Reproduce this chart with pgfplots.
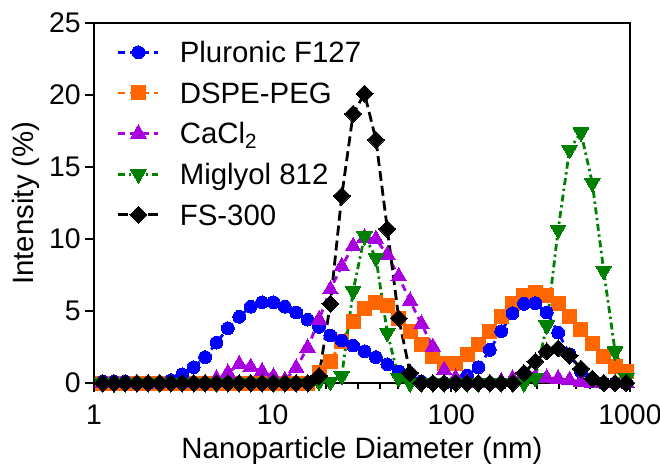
\documentclass[border=0pt]{standalone}
\usepackage{pgfplots}
\usepackage{pgfplotstable}
\pgfplotsset{compat=1.18}
\usepackage{fontspec}
\setmainfont{Liberation Sans}
\definecolor{cblue}{RGB}{0,0,255}
\definecolor{corange}{RGB}{255,102,0}
\definecolor{cpurple}{RGB}{168,0,222}
\definecolor{cgreen}{RGB}{0,128,0}

\pgfplotstableread{
x b o p g k
1.117 0.1 0 0 0 0
1.294 0.1 0 0 0 0
1.499 0.1 0 0 0 0
1.736 0 0 0 0 0
2.01 0 0 0 0 0
2.328 0 0 0 0 0
2.696 0.2 0 0 0 0
3.122 0.6 0 0 0 0
3.615 1.1 0 0 0 0
4.187 1.8 0 0 0 0
4.849 2.8 0 0.3 0 0
5.615 3.8 0 0.7 0 0
6.503 4.6 0 1.3 0 0
7.531 5.3 0 1.1 0 0
8.721 5.6 0 0.8 0 0
10.1 5.6 0 0.45 0 0
11.7 5.3 0 0.2 0 0
13.54 4.9 0 1.05 0 0
15.69 4.4 0 2.45 0 0
18.17 3.9 0.7 4.4 0.1 0.5
21.04 3.3 1.5 6.5 0.1 5.5
24.36 2.95 2.9 8.1 0.5 13.0
28.21 2.6 4.3 9.5 6.4 18.7
32.67 2.2 5.2 10.1 10.2 20.1
37.84 1.8 5.6 10.0 8.7 16.9
43.82 1.3 5.4 8.9 3.5 10.7
50.75 0.8 4.5 7.4 0.35 4.5
58.77 0.3 3.6 5.7 0 0.7
68.06 0.1 2.7 4.1 0 0
78.82 0 1.85 2.5 0 0
91.28 0 1.35 0.9 0 0
105.7 0.1 1.35 0.35 0 0
122.4 0.5 1.95 0.1 0 0
141.8 1.1 2.65 0 0 0
164.2 2.3 3.6 0 0 0
190.1 3.6 4.6 0.1 0 0
220.2 4.85 5.5 0.3 0 0
255 5.5 6.1 0.4 0 0.7
295.3 5.55 6.3 0.4 0.35 1.5
342 4.9 6.1 0.35 4.0 2.2
396.1 3.5 5.5 0.3 10.65 2.4
458.7 2.0 4.6 0.2 16.2 1.9
531.2 0.8 3.7 0.1 17.4 1.0
615.1 0.1 2.75 0 13.9 0.3
712.4 0 1.85 0 7.8 0
825 0 1.15 0 2.2 0
955.4 0 0.8 0 0.35 0
}\datatab

\pgfplotsset{
  sblue/.style={color=cblue, line width=1.4pt, dash pattern=on 3.5pt off 2.5pt, mark=*, mark size=3.2pt, mark options={solid, fill=cblue, draw=cblue, line width=0pt}},
  sorange/.style={color=corange, line width=1.4pt, dash pattern=on 3.5pt off 2.5pt, mark=square*, mark size=3.5pt, mark options={solid, fill=corange, draw=corange, line width=0pt}},
  spurple/.style={color=cpurple, line width=1.4pt, dash pattern=on 3.5pt off 2.5pt, mark=triangle*, mark size=4.5pt, mark options={solid, fill=cpurple, draw=cpurple, line width=0pt}},
  sgreen/.style={color=cgreen, line width=1.4pt, dash pattern=on 3.5pt off 1.8pt on 1.2pt off 1.8pt, mark=triangle*, mark size=4.5pt, mark options={solid, rotate=180, fill=cgreen, draw=cgreen, line width=0pt}},
  sblack/.style={color=black, line width=1.4pt, dash pattern=on 5pt off 2.5pt, mark=square*, mark size=3.0pt, mark options={solid, rotate=45, fill=black, draw=black, line width=0pt}},
}

\begin{document}
\begin{tikzpicture}[font=\fontsize{14.7}{17.6}\selectfont]
\useasboundingbox (-47pt,-40pt) rectangle (283pt,191.5pt);
\begin{axis}[
  at={(0pt,0pt)}, anchor=south west,
  scale only axis, width=268pt, height=180pt,
  xmode=log, xmin=1, xmax=1000, ymin=0, ymax=25,
  clip=false,
  xtick={1,10,100,1000}, xticklabels={1,10,100,1000},
  minor xtick={},
  ytick={0,5,10,15,20,25}, yticklabels={0,5,10,15,20,25},
  xtick pos=bottom, ytick pos=left,
  tick align=outside, major tick length=4.5pt,
  axis line style={line width=1pt},
  every tick/.style={black, line width=1pt},
  tick label style={font=\fontsize{14.2}{17}\selectfont},
  yticklabel style={anchor=east, inner sep=0pt, xshift=-2pt},
  xticklabel style={anchor=base, inner sep=0pt, yshift=-16pt},
  xlabel={Nanoparticle Diameter (nm)},
  xlabel style={at={(axis description cs:0.5,0)}, anchor=base, inner sep=0pt, yshift=-37.5pt},
  ylabel={Intensity (\%)},
  ylabel style={at={(axis description cs:-0.1138,0.5)}, anchor=base, inner sep=0pt},
  legend image code/.code={
    \draw[#1, mark=none] (0pt,0pt) -- (20pt,0pt);
    \draw[#1] plot coordinates {(10pt,0pt)};
  },
  legend style={at={(axis description cs:0,1)}, anchor=north west, xshift=11.5pt, yshift=-8pt,
    draw=none, fill=none, inner sep=0pt, outer sep=0pt, row sep=7pt,
    nodes={inner sep=0pt, text height=11.8pt, text depth=1.5pt},
    /tikz/every odd column/.append style={column sep=10pt},
    cells={anchor=west}},
]
\addlegendimage{sblue}\addlegendentry{Pluronic F127}
\addlegendimage{sorange}\addlegendentry{DSPE-PEG}
\addlegendimage{spurple}\addlegendentry{CaCl\textsubscript{2}}
\addlegendimage{sgreen}\addlegendentry{Miglyol 812}
\addlegendimage{sblack}\addlegendentry{FS-300}
\addplot[sorange, forget plot] table[x=x, y=o] {\datatab};
\addplot[sblue, forget plot] table[x=x, y=b] {\datatab};
\addplot[spurple, forget plot] table[x=x, y=p] {\datatab};
\addplot[sgreen, forget plot] table[x=x, y=g] {\datatab};
\addplot[sblack, forget plot] table[x=x, y=k] {\datatab};
\end{axis}
\end{tikzpicture}
\end{document}
